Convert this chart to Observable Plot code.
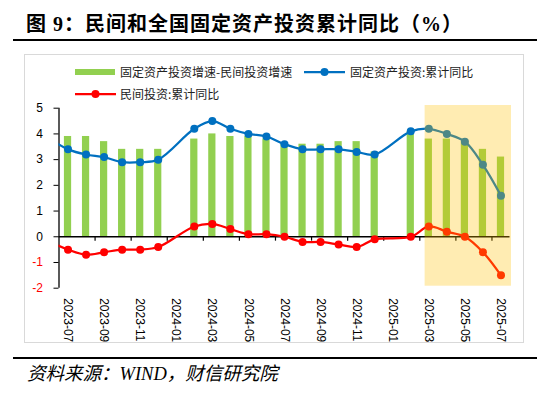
<!DOCTYPE html>
<html>
<head>
<meta charset="utf-8">
<script src="https://cdn.jsdelivr.net/npm/d3@7"></script>
<script src="https://cdn.jsdelivr.net/npm/@observablehq/plot@0.6"></script>
<style>
  html, body { margin: 0; padding: 0; background: #fff; }
  #page { position: relative; width: 550px; height: 397px; overflow: hidden; }
  #title { position: absolute; left: 26px; top: 12px; font-family: "Liberation Serif", "Noto Sans CJK SC", serif; font-weight: bold; font-size: 20px; letter-spacing: 1px; line-height: 24px; color: #000; white-space: nowrap; }
  .hr { position: absolute; left: 13px; width: 524px; height: 2px; background: #000; }
  #box { position: absolute; left: 24px; top: 54px; width: 500px; height: 289px; border: 1.5px solid #d9d9d9; box-sizing: border-box; }
  .leg { position: absolute; font-family: "Noto Sans CJK SC", sans-serif; font-size: 12px; line-height: 16px; color: #222; white-space: nowrap; }
  .sw { position: absolute; }
  #chart { position: absolute; left: 0; top: 100px; }
  #caption { position: absolute; left: 27px; top: 363px; font-family: "Liberation Serif", "Noto Sans CJK SC", serif; font-style: italic; font-size: 18.5px; line-height: 22px; color: #000; white-space: nowrap; }
</style>
</head>
<body>
<div id="page">
  <div id="title">图 9：民间和全国固定资产投资累计同比（%）</div>
  <div class="hr" style="top:39px"></div>
  <div id="box"></div>
  <div id="legend"></div>
  <div id="chart"></div>
  <div class="hr" style="top:357px"></div>
  <div id="caption">资料来源：WIND，财信研究院</div>
</div>
<script>
// ---- data ----
const axisMonths = ["2023-07","2023-08","2023-09","2023-10","2023-11","2023-12","2024-01","2024-02","2024-03","2024-04","2024-05","2024-06","2024-07","2024-08","2024-09","2024-10","2024-11","2024-12","2025-01","2025-02","2025-03","2025-04","2025-05","2025-06","2025-07"];
const labelMonths = ["2023-07","2023-09","2023-11","2024-01","2024-03","2024-05","2024-07","2024-09","2024-11","2025-01","2025-03","2025-05","2025-07"];
const lineMonths = ["2023-06","2023-07","2023-08","2023-09","2023-10","2023-11","2023-12","2024-02","2024-03","2024-04","2024-05","2024-06","2024-07","2024-08","2024-09","2024-10","2024-11","2024-12","2025-02","2025-03","2025-04","2025-05","2025-06","2025-07"];
const faiYoY =     [3.8, 3.4, 3.2, 3.1, 2.9, 2.9, 3.0, 4.2, 4.5, 4.2, 4.0, 3.9, 3.6, 3.4, 3.4, 3.4, 3.3, 3.2, 4.1, 4.2, 4.0, 3.7, 2.8, 1.6];
const privateYoY = [-0.2,-0.5,-0.7,-0.6,-0.5,-0.5,-0.4, 0.4, 0.5, 0.3, 0.1, 0.1, 0.0,-0.2,-0.2,-0.3,-0.4,-0.1, 0.0, 0.4, 0.2, 0.0,-0.6,-1.5];
const gapMonths = lineMonths.slice(1);
const gapValues = [3.9, 3.9, 3.7, 3.4, 3.4, 3.4, 3.8, 4.0, 3.9, 3.9, 3.8, 3.6, 3.6, 3.6, 3.7, 3.7, 3.3, 4.1, 3.8, 3.8, 3.7, 3.4, 3.1];
const highlight = ["2025-03", "2025-07"];
const yTicks = [-2, -1, 0, 1, 2, 3, 4, 5];
const seriesNames = ["固定资产投资增速-民间投资增速", "固定资产投资:累计同比", "民间投资:累计同比"];

// ---- helpers ----
const GREEN = "#92D050", BLUE = "#0070C0", RED = "#FF0000";
const mIndex = m => { const [y, mo] = m.split("-").map(Number); return (y - 2023) * 12 + mo - 7; };
const lineData = lineMonths.map((m, k) => ({i: mIndex(m), fai: faiYoY[k], pri: privateYoY[k]}));
const dotData = lineData.filter(d => d.i >= 0);
const barData = gapMonths.map((m, k) => ({i: mIndex(m), v: gapValues[k]}));
const boundaries = axisMonths.map((m, k) => k).filter(k => k % 2 === 1).map(k => k + 0.5);
const barHalf = 0.2;

const chart = Plot.plot({
  width: 550,
  height: 250,
  marginLeft: 58.5,
  marginRight: 40.5,
  marginTop: 7.7,
  marginBottom: 62.3,
  style: {fontFamily: "'Liberation Sans', Arial, sans-serif", fontSize: "12px", background: "transparent", overflow: "visible", color: "#000"},
  x: {domain: [-0.5, axisMonths.length - 0.5], label: null},
  y: {domain: [-2, 5], label: null},
  marks: [
    Plot.rectY(barData, {x1: d => d.i - barHalf, x2: d => d.i + barHalf, y1: 0, y2: "v", fill: GREEN}),
    Plot.ruleY([0], {stroke: "#000", strokeWidth: 1.3}),
    Plot.ruleX(boundaries, {y1: 0, y2: -0.17, stroke: "#000", strokeWidth: 1.2}),
    Plot.ruleX([-0.5], {y1: -2, y2: 5, stroke: "#000", strokeWidth: 1.3}),
    Plot.line(lineData, {x: "i", y: "fai", stroke: BLUE, strokeWidth: 2.25, curve: "catmull-rom", clip: true}),
    Plot.dot(dotData, {x: "i", y: "fai", r: 4, fill: BLUE}),
    Plot.line(lineData, {x: "i", y: "pri", stroke: RED, strokeWidth: 2.25, curve: "catmull-rom", clip: true}),
    Plot.dot(dotData, {x: "i", y: "pri", r: 4, fill: RED}),
    Plot.rect([highlight], {x1: d => mIndex(d[0]) - 0.5, x2: d => mIndex(d[1]) + 0.5, y1: -2, y2: 5,
      fill: "#FFC000", fillOpacity: 0.3, insetLeft: 5.3, insetRight: -1.5, insetTop: -2.7, insetBottom: 2}),
    Plot.axisY({ticks: yTicks.filter(t => t >= 0), tickSize: 5, tickPadding: 11, stroke: "#000", fill: "#000", tickFormat: d => String(d), label: null}),
    Plot.axisY({ticks: yTicks.filter(t => t < 0), tickSize: 5, tickPadding: 11, stroke: "#000", fill: RED, tickFormat: d => String(d), label: null}),
    Plot.axisX({ticks: labelMonths.map(mIndex), tickFormat: i => axisMonths[i], tickRotate: 90, tickSize: 0, tickPadding: 10, fill: "#000", label: null})
  ]
});
document.getElementById("chart").appendChild(chart);

// ---- legend ----
const legend = document.getElementById("legend");
function addSwatch(x, y, type, color) {
  const ns = "http://www.w3.org/2000/svg";
  const s = document.createElementNS(ns, "svg");
  s.setAttribute("class", "sw");
  s.setAttribute("width", 44); s.setAttribute("height", 12);
  s.style.left = x + "px"; s.style.top = (y - 6) + "px";
  if (type === "bar") {
    const r = document.createElementNS(ns, "rect");
    r.setAttribute("x", 0); r.setAttribute("y", 3); r.setAttribute("width", 40); r.setAttribute("height", 6); r.setAttribute("fill", color);
    s.appendChild(r);
  } else {
    const l = document.createElementNS(ns, "line");
    l.setAttribute("x1", 0); l.setAttribute("x2", 41); l.setAttribute("y1", 6); l.setAttribute("y2", 6);
    l.setAttribute("stroke", color); l.setAttribute("stroke-width", 2.25);
    s.appendChild(l);
    const c = document.createElementNS(ns, "circle");
    c.setAttribute("cx", 20.5); c.setAttribute("cy", 6); c.setAttribute("r", 4); c.setAttribute("fill", color);
    s.appendChild(c);
  }
  legend.appendChild(s);
}
function addText(x, y, t) {
  const d = document.createElement("div");
  d.className = "leg"; d.textContent = t;
  d.style.left = x + "px"; d.style.top = (y - 8) + "px";
  legend.appendChild(d);
}
addSwatch(75, 72, "bar", GREEN); addText(120, 72, seriesNames[0]);
addSwatch(304, 72, "line", BLUE); addText(350, 72, seriesNames[1]);
addSwatch(75, 94, "line", RED); addText(120, 94, seriesNames[2]);
</script>
</body>
</html>
